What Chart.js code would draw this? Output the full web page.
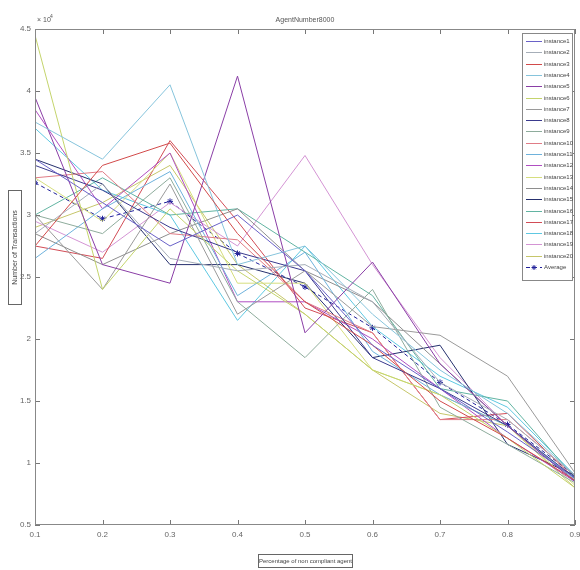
<!DOCTYPE html>
<html>
<head>
<meta charset="utf-8">
<script src="https://cdn.jsdelivr.net/npm/chart.js@4.4.0/dist/chart.umd.min.js"></script>
<style>
  html, body { margin: 0; padding: 0; background: #fff; }
  #wrap { width: 580px; height: 570px; }
</style>
</head>
<body>
<div id="wrap"><canvas id="tx-chart" width="580" height="570"></canvas></div>
<script>
// Share of non compliant agents (x axis)
const ratios = [0.1, 0.2, 0.3, 0.4, 0.5, 0.6, 0.7, 0.8, 0.9];
const yTicks = [5000, 10000, 15000, 20000, 25000, 30000, 35000, 40000, 45000];

// Number of transactions per run
const instance1  = [34500, 31000, 27500, 30000, 25500, 19500, 16000, 12500, 8800];
const instance2  = [28500, 32500, 26500, 25500, 26000, 23000, 16500, 13500, 9000];
const instance3  = [27500, 34000, 35800, 28500, 23000, 19500, 15000, 12000, 8600];
const instance4  = [37500, 34500, 40500, 26000, 27500, 22000, 17500, 14000, 9000];
const instance5  = [39500, 26000, 24500, 41200, 20500, 26200, 18000, 13000, 8500];
const instance6  = [44500, 24000, 30500, 25500, 22000, 17500, 15500, 12000, 8000];
const instance7  = [30000, 24000, 32500, 22000, 25500, 21000, 20300, 17000, 9200];
const instance8  = [34000, 32000, 29000, 27000, 25500, 18500, 16000, 13000, 8800];
const instance9  = [30000, 28500, 33000, 23000, 18500, 24000, 14500, 11500, 8400];
const instance10 = [33000, 33500, 28500, 28000, 23000, 20500, 13500, 13500, 9000];
const instance11 = [26500, 30500, 33500, 23500, 27000, 19000, 15500, 13000, 8700];
const instance12 = [38500, 30500, 35000, 23000, 23000, 20000, 16000, 12000, 8500];
const instance13 = [33000, 29500, 35000, 24500, 24500, 17500, 15500, 13000, 8200];
const instance14 = [28500, 26000, 28500, 30500, 25500, 23000, 18000, 13000, 8600];
const instance15 = [34500, 32500, 26000, 26000, 24500, 18500, 19500, 11500, 9000];
const instance16 = [30000, 33000, 30000, 30500, 27000, 23500, 16000, 15000, 8800];
const instance17 = [27500, 26500, 36000, 29500, 22500, 20500, 13500, 14000, 8700];
const instance18 = [37000, 32000, 30000, 21500, 27500, 21000, 17000, 14500, 9000];
const instance19 = [29500, 27000, 31000, 27500, 34800, 26000, 18500, 13000, 8500];
const instance20 = [29000, 31000, 34000, 26000, 22000, 17500, 14000, 13000, 8000];
const average    = [32600, 29700, 31100, 26900, 24200, 20900, 16500, 13100, 9000];

const instances = [
  instance1, instance2, instance3, instance4, instance5,
  instance6, instance7, instance8, instance9, instance10,
  instance11, instance12, instance13, instance14, instance15,
  instance16, instance17, instance18, instance19, instance20
];

const instanceColors = [
  '#6a62c8', '#a6aeb8', '#d24a4a', '#86c4dc', '#8a3ea6',
  '#c4d46c', '#9a9a9a', '#3a3a8e', '#8eac9c', '#e07c86',
  '#6eb2dc', '#b04ec2', '#d6de7e', '#8e8e8e', '#26306e',
  '#62b4a2', '#d24c56', '#5ec8e2', '#d494d4', '#c6c66a'
];

const FONT = '"Liberation Sans", Arial, sans-serif';

function toPoints(vals) {
  return vals.map((v, i) => ({ x: ratios[i], y: v }));
}

const datasets = instances.map((vals, i) => ({
  label: 'instance' + (i + 1),
  data: toPoints(vals),
  borderColor: instanceColors[i],
  borderWidth: 1,
  pointRadius: 0,
  tension: 0,
  fill: false
}));

datasets.push({
  label: 'Average',
  data: toPoints(average),
  borderColor: '#22229a',
  borderWidth: 1,
  borderDash: [4, 3],
  pointStyle: 'star',
  pointRadius: 3,
  pointBorderColor: '#22229a',
  pointBorderWidth: 1,
  tension: 0,
  fill: false
});

// Frame, inward ticks, title, boxed axis labels and in-plot legend
const matlabDecor = {
  id: 'matlabDecor',
  afterDatasetsDraw(chart) {
    const { ctx, chartArea: a, scales } = chart;
    ctx.save();

    // tick marks pointing inside on all four sides
    ctx.strokeStyle = '#777';
    ctx.lineWidth = 1;
    ctx.beginPath();
    scales.y.ticks.forEach(t => {
      const py = Math.round(scales.y.getPixelForValue(t.value)) + 0.5;
      ctx.moveTo(a.left, py); ctx.lineTo(a.left + 5, py);
      ctx.moveTo(a.right, py); ctx.lineTo(a.right - 5, py);
    });
    scales.x.ticks.forEach(t => {
      const px = Math.round(scales.x.getPixelForValue(t.value)) + 0.5;
      ctx.moveTo(px, a.bottom); ctx.lineTo(px, a.bottom - 5);
      ctx.moveTo(px, a.top); ctx.lineTo(px, a.top + 5);
    });
    ctx.stroke();

    // axes box
    ctx.strokeStyle = '#888';
    ctx.strokeRect(a.left + 0.5, a.top + 0.5, a.right - a.left - 1, a.bottom - a.top - 1);

    // title
    ctx.fillStyle = '#555';
    ctx.font = '7px ' + FONT;
    ctx.textAlign = 'center';
    ctx.textBaseline = 'bottom';
    ctx.fillText('AgentNumber8000', (a.left + a.right) / 2, a.top - 5);

    // exponent above the y axis
    ctx.textAlign = 'left';
    ctx.font = '7px ' + FONT;
    ctx.fillText('\u00d7 10', a.left + 2, a.top - 5);
    ctx.font = '5px ' + FONT;
    ctx.fillText('4', a.left + 15, a.top - 10);

    // y axis label in a box
    ctx.font = '7px ' + FONT;
    ctx.strokeStyle = '#666';
    ctx.strokeRect(8.5, 190.5, 13, 114);
    ctx.save();
    ctx.translate(15, 247.5);
    ctx.rotate(-Math.PI / 2);
    ctx.textAlign = 'center';
    ctx.textBaseline = 'middle';
    ctx.fillStyle = '#444';
    ctx.fillText('Number of Transactions', 0, 0);
    ctx.restore();

    // x axis label in a box
    ctx.strokeRect(258.5, 554.5, 94, 13);
    ctx.font = '6px ' + FONT;
    ctx.textAlign = 'center';
    ctx.textBaseline = 'middle';
    ctx.fillStyle = '#444';
    ctx.fillText('Percentage of non compliant agent', 305.5, 561);

    // legend, right-aligned to the axes box
    const lw = 51, lx = a.right - lw - 2, ly = a.top + 4, rowH = 11.3;
    const n = chart.data.datasets.length;
    const lh = Math.round(n * rowH + 10);
    ctx.fillStyle = '#fff';
    ctx.fillRect(lx, ly, lw, lh);
    ctx.strokeStyle = '#888';
    ctx.strokeRect(lx + 0.5, ly + 0.5, lw - 1, lh);
    ctx.font = '6px ' + FONT;
    ctx.textAlign = 'left';
    ctx.textBaseline = 'middle';
    chart.data.datasets.forEach((ds, i) => {
      const cy = Math.round(ly + 8 + i * rowH) + 0.5;
      ctx.strokeStyle = ds.borderColor;
      ctx.lineWidth = 1;
      ctx.setLineDash(ds.borderDash || []);
      ctx.beginPath();
      ctx.moveTo(lx + 4, cy);
      ctx.lineTo(lx + 20, cy);
      ctx.stroke();
      ctx.setLineDash([]);
      if (ds.pointStyle === 'star') {
        Chart.helpers.drawPoint(ctx, { pointStyle: 'star', radius: 2.5, borderWidth: 1 }, lx + 12, cy);
      }
      ctx.fillStyle = '#444';
      ctx.fillText(ds.label, lx + 22, cy);
    });

    ctx.restore();
  }
};

new Chart(document.getElementById('tx-chart'), {
  type: 'line',
  data: { datasets },
  options: {
    responsive: false,
    animation: false,
    devicePixelRatio: 1,
    layout: { padding: { left: 0, top: 29, right: 0, bottom: 0 } },
    plugins: {
      legend: { display: false },
      tooltip: { enabled: false },
      title: { display: false }
    },
    scales: {
      x: {
        type: 'linear',
        min: 0.1,
        max: 0.9,
        afterFit: s => { s.height = 45; s.paddingRight = 5; },
        afterBuildTicks: s => { s.ticks = ratios.map(v => ({ value: v })); },
        grid: { display: false, drawTicks: false },
        border: { display: false },
        ticks: {
          padding: 5,
          color: '#666',
          font: { family: FONT, size: 8 },
          callback: v => v.toFixed(1)
        }
      },
      y: {
        type: 'linear',
        min: 5000,
        max: 45000,
        afterFit: s => { s.width = 35; },
        afterBuildTicks: s => { s.ticks = yTicks.map(v => ({ value: v })); },
        grid: { display: false, drawTicks: false },
        border: { display: false },
        ticks: {
          padding: 4,
          color: '#666',
          font: { family: FONT, size: 8 },
          callback: v => String(v / 10000)
        }
      }
    }
  },
  plugins: [matlabDecor]
});
</script>
</body>
</html>
